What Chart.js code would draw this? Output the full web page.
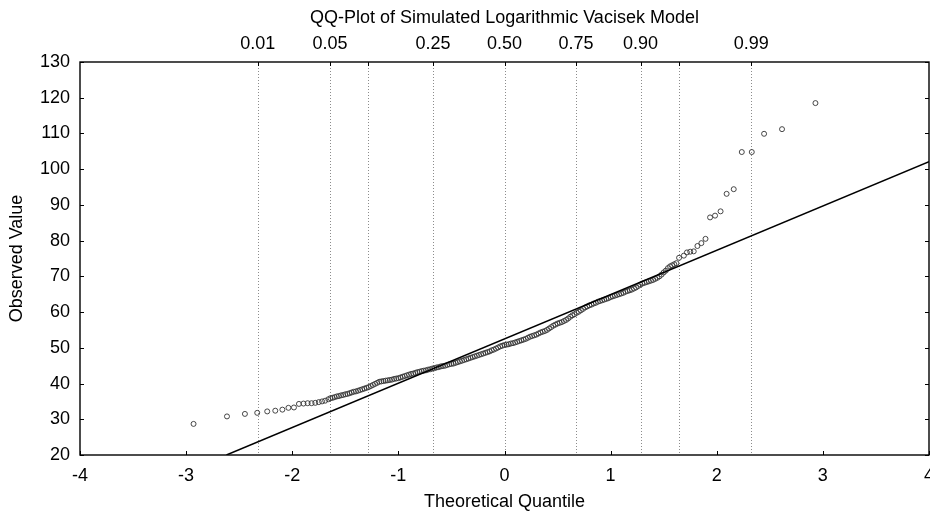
<!DOCTYPE html>
<html>
<head>
<meta charset="utf-8">
<script src="https://cdn.jsdelivr.net/npm/chart.js@4"></script>
<style>
html,body{margin:0;padding:0;background:#fff;overflow:hidden;}
#wrap{position:relative;width:945px;height:516px;}
</style>
</head>
<body>
<div id="wrap"><canvas id="c"></canvas></div>
<script>
const quantiles = [
  -2.93, -2.615, -2.446, -2.33, -2.236, -2.16, -2.093, -2.036, -1.984, -1.937,
  -1.894, -1.855, -1.818, -1.783, -1.75, -1.719, -1.69,
  -1.66, -1.64, -1.62, -1.60, -1.58, -1.56, -1.54, -1.52, -1.50, -1.48,
  -1.46, -1.44, -1.42, -1.40, -1.38, -1.36, -1.34, -1.32, -1.30, -1.28,
  -1.26, -1.24, -1.22, -1.20, -1.18, -1.16, -1.14, -1.12, -1.10, -1.08,
  -1.06, -1.04, -1.02, -1.00, -0.98, -0.96, -0.94, -0.92, -0.90, -0.88,
  -0.86, -0.84, -0.82, -0.80, -0.78, -0.76, -0.74, -0.72, -0.70, -0.68,
  -0.66, -0.64, -0.62, -0.60, -0.58, -0.56, -0.54, -0.52, -0.50, -0.48,
  -0.46, -0.44, -0.42, -0.40, -0.38, -0.36, -0.34, -0.32, -0.30, -0.28,
  -0.26, -0.24, -0.22, -0.20, -0.18, -0.16, -0.14, -0.12, -0.10, -0.08,
  -0.06, -0.04, -0.02, 0.00, 0.02, 0.04, 0.06, 0.08, 0.10, 0.12,
  0.14, 0.16, 0.18, 0.20, 0.22, 0.24, 0.26, 0.28, 0.30, 0.32,
  0.34, 0.36, 0.38, 0.40, 0.42, 0.44, 0.46, 0.48, 0.50, 0.52,
  0.54, 0.56, 0.58, 0.60, 0.62, 0.64, 0.66, 0.68, 0.70, 0.72,
  0.74, 0.76, 0.78, 0.80, 0.82, 0.84, 0.86, 0.88, 0.90, 0.92,
  0.94, 0.96, 0.98, 1.00, 1.02, 1.04, 1.06, 1.08, 1.10, 1.12,
  1.14, 1.16, 1.18, 1.20, 1.22, 1.24, 1.26, 1.28, 1.30, 1.32,
  1.34, 1.36, 1.38, 1.40, 1.42, 1.44, 1.46, 1.48, 1.50, 1.52,
  1.54, 1.56, 1.58, 1.60, 1.62,
  1.645, 1.69, 1.719, 1.75, 1.783, 1.818, 1.855, 1.894, 1.937, 1.984,
  2.036, 2.093, 2.16, 2.236, 2.33, 2.446, 2.615, 2.93
];
const observed = [
  28.7, 30.8, 31.5, 31.8, 32.2, 32.4, 32.7, 33.2, 33.3, 34.3,
  34.4, 34.5, 34.5, 34.6, 34.8, 35.0, 35.2,
  35.6, 35.9, 36.0, 36.2, 36.4, 36.5, 36.7, 36.8, 37.0, 37.1,
  37.3, 37.5, 37.7, 37.8, 38.0, 38.2, 38.4, 38.6, 38.8, 39.0,
  39.3, 39.6, 39.9, 40.2, 40.5, 40.6, 40.7, 40.8, 40.9, 41.0,
  41.1, 41.3, 41.4, 41.5, 41.7, 41.9, 42.1, 42.3, 42.5, 42.7,
  42.8, 43.0, 43.2, 43.3, 43.5, 43.6, 43.7, 43.9, 44.0, 44.2,
  44.3, 44.5, 44.6, 44.8, 44.9, 45.0, 45.2, 45.4, 45.5, 45.6,
  45.8, 46.0, 46.2, 46.4, 46.6, 46.8, 47.0, 47.2, 47.4, 47.6,
  47.8, 48.0, 48.2, 48.4, 48.6, 48.8, 49.0, 49.3, 49.5, 49.8,
  50.1, 50.4, 50.6, 50.8, 50.9, 51.0, 51.2, 51.3, 51.5, 51.7,
  51.9, 52.1, 52.3, 52.5, 52.8, 53.1, 53.3, 53.5, 53.7, 54.0,
  54.3, 54.5, 54.7, 55.0, 55.4, 55.8, 56.2, 56.5, 56.8, 57.0,
  57.2, 57.5, 57.8, 58.2, 58.7, 59.1, 59.4, 59.8, 60.1, 60.5,
  60.9, 61.3, 61.6, 61.9, 62.1, 62.4, 62.6, 62.9, 63.1, 63.3,
  63.5, 63.7, 63.9, 64.2, 64.4, 64.6, 64.8, 65.0, 65.2, 65.4,
  65.7, 65.9, 66.1, 66.3, 66.6, 66.9, 67.3, 67.7, 68.0, 68.2,
  68.4, 68.6, 68.8, 69.0, 69.3, 69.6, 70.0, 70.5, 71.1, 71.6,
  72.3, 72.8, 73.1, 73.4, 73.7,
  75.2, 75.8, 76.7, 76.9, 77.0, 78.5, 79.3, 80.5, 86.5, 87.0,
  88.2, 93.1, 94.4, 104.8, 104.8, 109.9, 111.2, 118.5
];
// Reference line end points
const lineX = [-2.62, 4];
const lineY = [20, 102.1];
// Axis ticks
const xTicks = [-4, -3, -2, -1, 0, 1, 2, 3, 4];
const yTicks = [20, 30, 40, 50, 60, 70, 80, 90, 100, 110, 120, 130];
const probPositions = [-2.326, -1.645, -1.2816, -0.6745, 0, 0.6745, 1.2816, 1.645, 2.326];
const probLabels = ['0.01', '0.05', '', '0.25', '0.50', '0.75', '0.90', '', '0.99'];

Chart.defaults.font.family = '"Liberation Sans", Arial, Helvetica, sans-serif';
Chart.defaults.font.size = 18;
Chart.defaults.color = '#000';

const points = quantiles.map((q, i) => ({ x: q, y: observed[i] }));
const refLine = lineX.map((q, i) => ({ x: q, y: lineY[i] }));

const framePlugin = {
  id: 'frame',
  beforeDatasetsDraw(chart) {
    const { ctx, chartArea: a, scales } = chart;
    ctx.save();
    ctx.strokeStyle = '#8c8c8c';
    ctx.lineWidth = 1;
    ctx.setLineDash([1, 2]);
    scales.x2.ticks.forEach(t => {
      const px = Math.round(scales.x2.getPixelForValue(t.value)) + 0.5;
      ctx.beginPath();
      ctx.moveTo(px, a.top);
      ctx.lineTo(px, a.bottom);
      ctx.stroke();
    });
    ctx.restore();
  },
  afterDraw(chart) {
    const { ctx, chartArea: a, scales } = chart;
    ctx.save();
    ctx.strokeStyle = '#000';
    ctx.lineWidth = 1.4;
    ctx.setLineDash([]);
    ctx.strokeRect(a.left, a.top, a.right - a.left, a.bottom - a.top);
    ctx.lineWidth = 1;
    const L = 4;
    ctx.beginPath();
    scales.x.ticks.forEach(t => {
      const px = Math.round(scales.x.getPixelForValue(t.value)) + 0.5;
      ctx.moveTo(px, a.bottom); ctx.lineTo(px, a.bottom - L);
    });
    scales.x2.ticks.forEach(t => {
      const px = Math.round(scales.x2.getPixelForValue(t.value)) + 0.5;
      ctx.moveTo(px, a.top); ctx.lineTo(px, a.top + L);
    });
    scales.y.ticks.forEach(t => {
      const py = Math.round(scales.y.getPixelForValue(t.value)) + 0.5;
      ctx.moveTo(a.left, py); ctx.lineTo(a.left + L, py);
      ctx.moveTo(a.right, py); ctx.lineTo(a.right - L, py);
    });
    ctx.stroke();
    ctx.restore();
  }
};

new Chart(document.getElementById('c'), {
  type: 'scatter',
  data: {
    datasets: [
      {
        type: 'line',
        data: refLine,
        borderColor: '#000',
        borderWidth: 1.5,
        pointRadius: 0,
        fill: false,
        tension: 0
      },
      {
        data: points,
        pointStyle: 'circle',
        pointRadius: 2.5,
        pointBorderWidth: 0.9,
        borderColor: '#333',
        backgroundColor: 'rgba(0,0,0,0)',
        pointBackgroundColor: 'rgba(0,0,0,0)',
        pointBorderColor: '#333'
      }
    ]
  },
  options: {
    responsive: true,
    maintainAspectRatio: false,
    animation: false,
    devicePixelRatio: 1,
    layout: { padding: { left: 0, right: 16, top: 0, bottom: 0 } },
    plugins: { legend: { display: false }, tooltip: { enabled: false } },
    scales: {
      x: {
        type: 'linear', position: 'bottom', min: -4, max: 4,
        afterBuildTicks: s => { s.ticks = xTicks.map(v => ({ value: v })); },
        afterFit: s => { s.height = 61; },
        grid: { display: false, drawTicks: false },
        border: { display: false },
        ticks: { padding: 10, maxRotation: 0, autoSkip: false, color: '#000' },
        title: { display: true, text: 'Theoretical Quantile', color: '#000', padding: { top: 0, bottom: 3 } }
      },
      x2: {
        type: 'linear', position: 'top', min: -4, max: 4,
        afterBuildTicks: s => { s.ticks = probPositions.map(v => ({ value: v })); },
        afterFit: s => { s.height = 62; },
        grid: { display: false, drawTicks: false },
        border: { display: false },
        ticks: {
          padding: 7, maxRotation: 0, autoSkip: false, color: '#000',
          callback: (v, i) => probLabels[i]
        },
        title: { display: true, text: 'QQ-Plot of Simulated Logarithmic Vacisek Model', color: '#000', padding: { top: 7, bottom: 0 } }
      },
      y: {
        type: 'linear', position: 'left', min: 20, max: 130,
        afterBuildTicks: s => { s.ticks = yTicks.map(v => ({ value: v })); },
        afterFit: s => { s.width = 80; },
        grid: { display: false, drawTicks: false },
        border: { display: false },
        ticks: { padding: 10, color: '#000' },
        title: { display: true, text: 'Observed Value', color: '#000', padding: { top: 6, bottom: 0 } }
      }
    }
  },
  plugins: [framePlugin]
});
</script>
</body>
</html>
